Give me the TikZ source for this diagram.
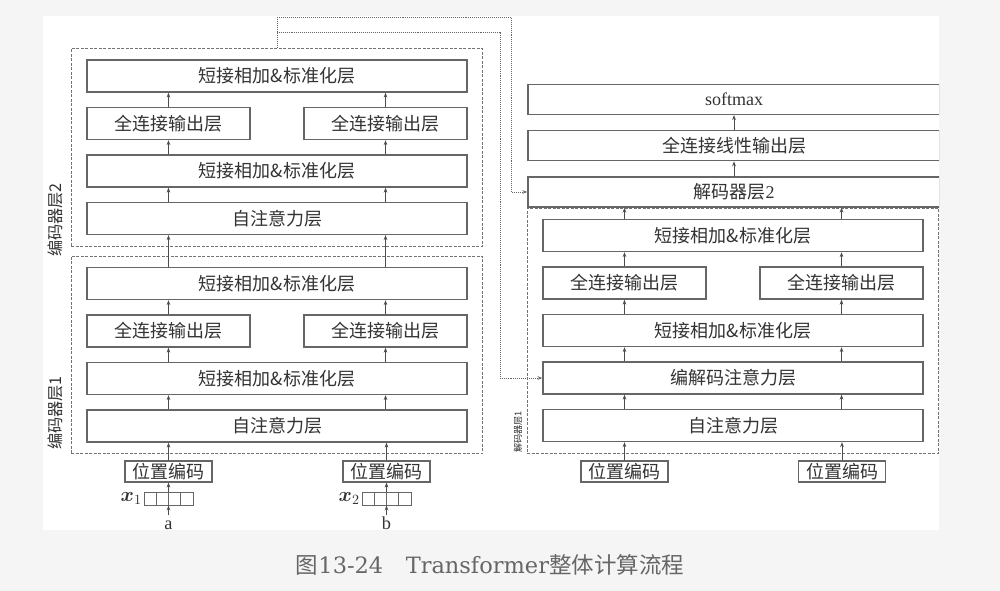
\documentclass[tikz,border=0pt]{standalone}
\usepackage{fontspec}
\usepackage{amsmath}
\usepackage{bm}
\setmainfont{Liberation Serif}
\newfontfamily\cjk{Noto Sans CJK SC}
\newfontfamily\capfont{DejaVu Serif}
\usetikzlibrary{positioning,fit,arrows.meta}

\definecolor{pagegray}{HTML}{F5F5F5}
\definecolor{linegray}{HTML}{666666}
\definecolor{textgray}{HTML}{333333}

\begin{document}
\begin{tikzpicture}[
    x=0.025cm, y=-0.025cm,
    node distance=0.355cm,
    layer/.style={rectangle, draw=linegray, line width=0.9pt, fill=white, text=textgray, minimum width=9.5cm, minimum height=0.8cm, inner sep=0pt, font=\cjk\fontsize{12.8}{15}\selectfont},
    half/.style={layer, minimum width=4.075cm},
    head/.style={layer, minimum width=10.3cm, minimum height=0.75cm},
    posenc/.style={layer, minimum width=2.175cm, minimum height=0.525cm, line width=0.8pt},
    cellrow/.style={rectangle, draw=linegray, line width=0.7pt, inner sep=0pt, minimum width=1.225cm, minimum height=0.325cm,
        path picture={\foreach \k in {1,2,3} \draw[linegray, line width=0.7pt] ([xshift=\k*0.306cm]path picture bounding box.south west) -- ([xshift=\k*0.306cm]path picture bounding box.north west);}},
    group/.style={rectangle, draw=black!55, line width=0.6pt, dash pattern=on 2pt off 1.2pt, inner xsep=0.375cm, inner ysep=0.275cm},
    arr/.style={-{Stealth[length=3.5pt,width=2.6pt]}, line width=0.6pt, draw=black!70},
    link/.style={arr, draw=black!60, dash pattern=on 0.7pt off 0.7pt},
    side/.style={rotate=90, text=textgray, inner sep=0pt, font=\cjk\fontsize{11.5}{13}\selectfont},
    word/.style={text=textgray, inner sep=1.5pt, text height=8pt, text depth=0pt, anchor=base, font=\fontsize{13}{15}\selectfont}
]

\useasboundingbox (0,0) rectangle (1000,591);
\fill[pagegray] (0,0) rectangle (1000,591);
\fill[white] (43,16) rectangle (939,530);

\begin{scope}
\clip (43,16) rectangle (939,530);

% === ENCODER LAYER 1 ===
\node[layer] (sa1) at (277,426) {自注意力层};
\node[layer, above=of sa1] (add1) {短接相加\&标准化层};
\node[half, above=of add1.north west, anchor=south west] (fcL1) {全连接输出层};
\node[half, above=of add1.north east, anchor=south east] (fcR1) {全连接输出层};
\node[layer, above=of fcL1.north west, anchor=south west] (add1t) {短接相加\&标准化层};

% === ENCODER LAYER 2 ===
\node[layer] (sa2) at (277,218.5) {自注意力层};
\node[layer, above=of sa2] (add2) {短接相加\&标准化层};
\node[half, above=of add2.north west, anchor=south west] (fcL2) {全连接输出层};
\node[half, above=of add2.north east, anchor=south east] (fcR2) {全连接输出层};
\node[layer, above=of fcL2.north west, anchor=south west] (add2t) {短接相加\&标准化层};

% === INPUTS ===
\node[posenc] (peA) at (168.5,471.5) {位置编码};
\node[posenc] (peB) at (386.5,471.5) {位置编码};
\node[cellrow] (cellsA) at (168.5,498.5) {};
\node[cellrow] (cellsB) at (386.5,498.5) {};
\node[left=1pt of cellsA, inner sep=0pt, text=textgray, font=\fontsize{14}{16}\selectfont] (xA) {$\bm{x}_1$};
\node[left=1pt of cellsB, inner sep=0pt, text=textgray, font=\fontsize{14}{16}\selectfont] (xB) {$\bm{x}_2$};
\node[word] (inA) at (168.5,529) {a};
\node[word] (inB) at (386.5,529) {b};

% === DECODER LAYER 1 ===
\node[layer] (saD) at (733,425.5) {自注意力层};
\node[layer, above=of saD] (encdec) {编解码注意力层};
\node[layer, above=of encdec] (addD) {短接相加\&标准化层};
\node[half, above=of addD.north west, anchor=south west] (fcLD) {全连接输出层};
\node[half, above=of addD.north east, anchor=south east] (fcRD) {全连接输出层};
\node[layer, above=of fcLD.north west, anchor=south west] (addDt) {短接相加\&标准化层};
\node[posenc] (peC) at (624.5,471.5) {位置编码};
\node[posenc] (peD) at (842,471.5) {位置编码};

% === OUTPUT HEAD ===
\node[head] (dec2) at (734,192) {解码器层{\rmfamily 2}};
\node[head, above=0.375cm of dec2] (fclin) {全连接线性输出层};
\node[head, above=0.375cm of fclin, font=\rmfamily\fontsize{12.8}{15}\selectfont] (softmax) {softmax};

% === GROUPS ===
\node[group, fit=(add1t) (fcL1) (fcR1) (sa1)] (enc1grp) {};
\node[group, fit=(add2t) (fcL2) (fcR2) (sa2)] (enc2grp) {};
\node[group, fit=(addDt) (fcLD) (fcRD) (saD)] (decgrp) {};
\node[side] (enc1lab) at (55,413) {编码器层1};
\node[side] (enc2lab) at (55,220) {编码器层2};
\node[side, font=\cjk\fontsize{6.5}{8}\selectfont] (declab) at (518,432) {解码器层1};

% === CONNECTIONS ===
% inputs
\draw[arr] (inA) -- (cellsA); \draw[arr] (inB) -- (cellsB);
\draw[arr] (cellsA) -- (peA); \draw[arr] (cellsB) -- (peB);
\draw[arr] (peA.north) -- (peA.north |- sa1.south); \draw[arr] (peB.north) -- (peB.north |- sa1.south);

% encoder 1
\draw[arr] (sa1.north -| fcL1) -- (add1.south -| fcL1); \draw[arr] (sa1.north -| fcR1) -- (add1.south -| fcR1);
\draw[arr] (add1.north -| fcL1) -- (fcL1.south); \draw[arr] (add1.north -| fcR1) -- (fcR1.south);
\draw[arr] (fcL1.north) -- (add1t.south -| fcL1); \draw[arr] (fcR1.north) -- (add1t.south -| fcR1);
\draw[arr] (add1t.north -| fcL1) -- (sa2.south -| fcL1); \draw[arr] (add1t.north -| fcR1) -- (sa2.south -| fcR1);

% encoder 2
\draw[arr] (sa2.north -| fcL2) -- (add2.south -| fcL2); \draw[arr] (sa2.north -| fcR2) -- (add2.south -| fcR2);
\draw[arr] (add2.north -| fcL2) -- (fcL2.south); \draw[arr] (add2.north -| fcR2) -- (fcR2.south);
\draw[arr] (fcL2.north) -- (add2t.south -| fcL2); \draw[arr] (fcR2.north) -- (add2t.south -| fcR2);

% decoder
\draw[arr] (peC.north) -- (peC.north |- saD.south); \draw[arr] (peD.north) -- (peD.north |- saD.south);
\draw[arr] (saD.north -| fcLD) -- (encdec.south -| fcLD); \draw[arr] (saD.north -| fcRD) -- (encdec.south -| fcRD);
\draw[arr] (encdec.north -| fcLD) -- (addD.south -| fcLD); \draw[arr] (encdec.north -| fcRD) -- (addD.south -| fcRD);
\draw[arr] (addD.north -| fcLD) -- (fcLD.south); \draw[arr] (addD.north -| fcRD) -- (fcRD.south);
\draw[arr] (fcLD.north) -- (addDt.south -| fcLD); \draw[arr] (fcRD.north) -- (addDt.south -| fcRD);
\draw[arr] (addDt.north -| fcLD) -- (dec2.south -| fcLD); \draw[arr] (addDt.north -| fcRD) -- (dec2.south -| fcRD);
\draw[arr] (dec2) -- (fclin);
\draw[arr] (fclin) -- (softmax);

% encoder output to decoder
\coordinate (hopA) at (511,17);
\coordinate (hopB) at (500,32);
\draw[link] (enc2grp.north) |- (hopA) |- (dec2.west);
\draw[link] (enc2grp.north) |- (hopB) |- (encdec.west);
\end{scope}

\node[text=black!60, font=\fontsize{16}{18}\selectfont] (caption) at (490,565) {{\cjk 图}{\capfont 13-24}\hspace{1em}{\capfont Transformer}{\cjk 整体计算流程}};

\end{tikzpicture}
\end{document}
